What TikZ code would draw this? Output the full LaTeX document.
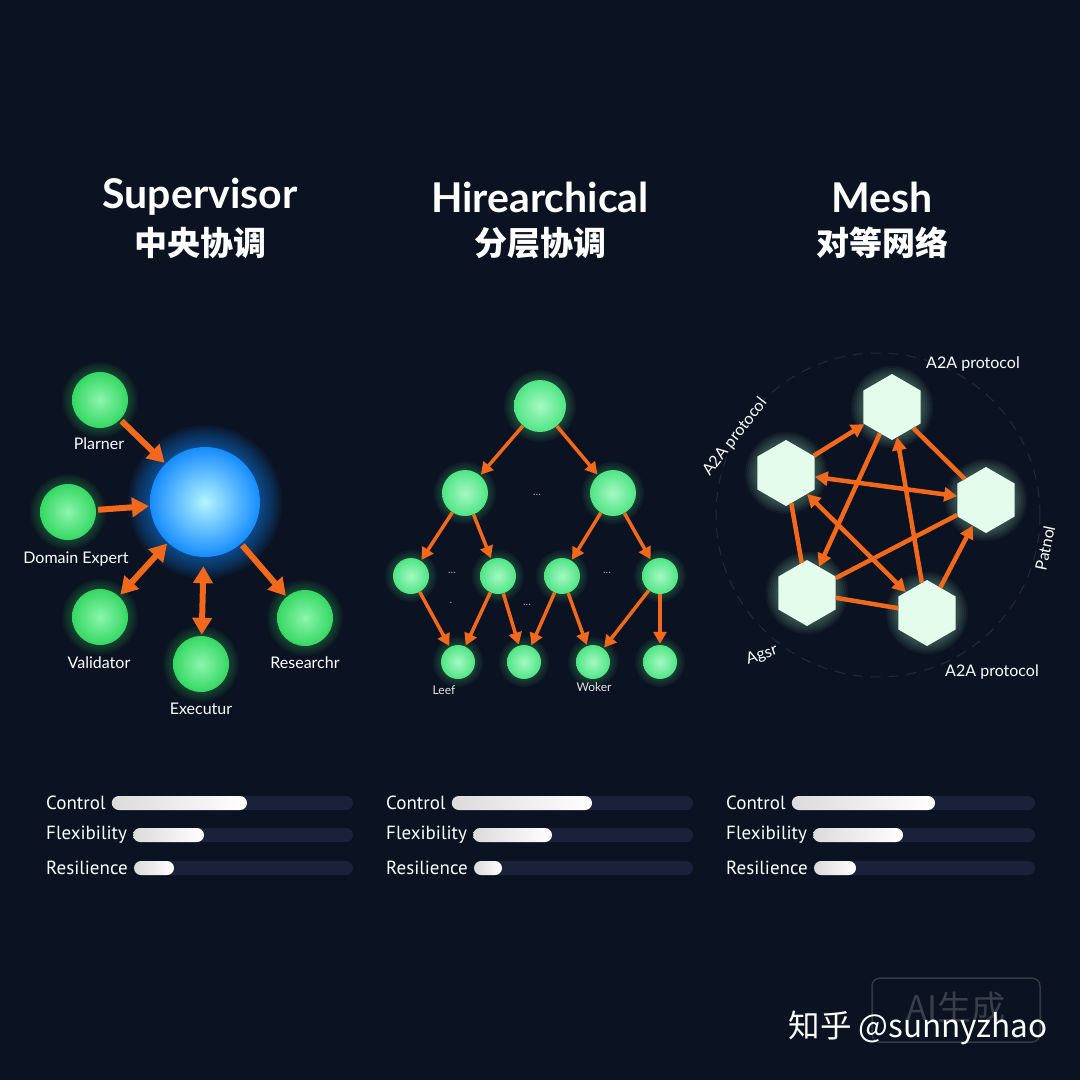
\documentclass[tikz,border=0pt]{standalone}
\usepackage{fontspec}
\setmainfont{Lato}
\newfontfamily\cjk{Noto Sans CJK SC}
\newfontfamily\barfont{PT Sans}
\usetikzlibrary{arrows.meta,shapes.geometric}
\definecolor{bgnavy}{HTML}{0B1221}
\definecolor{agentgreen}{HTML}{35D862}
\definecolor{agentlight}{HTML}{8CF5AE}
\definecolor{treegreen}{HTML}{4FE584}
\definecolor{treelight}{HTML}{A6F8C4}
\definecolor{hubblue}{HTML}{168CFF}
\definecolor{hubcyan}{HTML}{B4F4FF}
\definecolor{linkorange}{HTML}{F2691B}
\definecolor{hexmint}{HTML}{E4FCEC}
\definecolor{hexglow}{HTML}{9CE8B4}
\definecolor{trackgray}{HTML}{19223A}
\pgfdeclarelayer{bgl}\pgfdeclarelayer{glowl}
\pgfsetlayers{bgl,glowl,main}
\newcommand\halo[4]{\begin{pgfonlayer}{glowl}\foreach \k in {1,...,#4}{\fill[#3,opacity=.055](#1)circle[radius=#2pt+\k*2pt];}\end{pgfonlayer}}
\tikzset{
  agent/.style={circle,inner sep=0pt,shading=radial,inner color=agentlight,outer color=agentgreen},
  treenode/.style={circle,inner sep=0pt,shading=radial,inner color=treelight,outer color=treegreen},
  hub/.style={circle,inner sep=0pt,shading=radial,inner color=hubcyan,outer color=hubblue},
  hexagent/.style={regular polygon,regular polygon sides=6,shape border rotate=30,inner sep=0pt,minimum size=66,fill=hexmint},
  suplink/.style={draw=linkorange,line width=6pt,>={Triangle[length=17pt,width=19pt]},shorten <=2pt,shorten >=1pt},
  treelink/.style={draw=linkorange,line width=3.5pt,->,>={Triangle[length=12pt,width=13pt]},shorten >=1pt},
  meshlink/.style={draw=linkorange,line width=4.5pt,>={Triangle[length=13pt,width=14pt]}},
  agentlabel/.style={text=white,font=\fontsize{16}{18}\selectfont},
  smalllabel/.style={text=white!80!gray,font=\fontsize{12}{14}\selectfont},
  dots/.style={text=gray!70,font=\fontsize{11}{12}\selectfont},
  title/.style={text=white,font=\fontsize{41}{46}\selectfont\bfseries},
  cntitle/.style={text=white,font=\fontsize{33}{38}\selectfont\cjk\bfseries},
  barlabel/.style={text=white,anchor=west,inner sep=0pt,font=\fontsize{19}{21}\barfont},
}
\begin{document}
\begin{tikzpicture}[x=1pt,y=-1pt]
\useasboundingbox (0,0) rectangle (1080,1080);
\begin{pgfonlayer}{bgl}
\fill[bgnavy] (0,0) rectangle (1080,1080);
\end{pgfonlayer}
% titles
\node[title] (t1) at (200,197) {Supervisor};
\node[cntitle] (c1) at (200,243) {中央协调};
\node[title] (t2) at (540,197) {Hirearchical};
\node[cntitle] (c2) at (540,243) {分层协调};
\node[title] (t3) at (882,197) {Mesh};
\node[cntitle] (c3) at (882,243) {对等网络};
% supervisor
\node[hub,minimum size=110] (sup) at (205,502) {};
\halo{sup}{55}{hubblue}{11}
\foreach \n/\x/\y in {planner/100/400,domain/68/512,valid/100/617,exec/201/664,resr/305/618}{
  \node[agent,minimum size=56] (\n) at (\x,\y) {};
  \halo{\n}{28}{agentgreen}{5}
}
\node[agentlabel] (planlab) at (99,444) {Plarner};
\node[agentlabel] (domlab) at (76,559) {Domain Expert};
\node[agentlabel] (vallab) at (99,663) {Validator};
\node[agentlabel] (exlab) at (201,709) {Executur};
\node[agentlabel] (reslab) at (305,663) {Researchr};
\draw[suplink,->] (planner) -- (sup);
\draw[suplink,->] (domain) -- (sup);
\draw[suplink,<->] (valid) -- (sup);
\draw[suplink,<->,shorten <=9pt] (sup) -- (exec);
\draw[suplink,->] (sup) -- (resr);
% hierarchical
\node[treenode,minimum size=52] (root) at (540,406) {};
\halo{root}{26}{treegreen}{5}
\foreach \n/\x/\y/\d in {ma/465/493/46,mb/613/493/46,ca/411/576/36,cb/498/576/36,cc/562/576/36,cd/660/576/36,la/458/662/34,lb/524/662/34,lc/593/662/34,ld/660/662/34}{
  \node[treenode,minimum size=\d] (\n) at (\x,\y) {};
  \halo{\n}{\d/2}{treegreen}{4}
}
\foreach \a/\b in {root/ma,root/mb,ma/ca,ma/cb,mb/cc,mb/cd,ca/la,cb/la,cb/lb,cc/lb,cc/lc,cd/lc,cd/ld}
  \draw[treelink] (\a) -- (\b);
\node[dots] (d1) at (537,495) {...};
\node[dots] (d2) at (452,573) {...};
\node[dots] (d3) at (607,573) {...};
\node[dots] (d4) at (527,605) {...};
\node[dots] (d5) at (451,603) {.};
\node[smalllabel] (leaflab) at (444,690) {Leef};
\node[smalllabel] (worklab) at (594,687) {Woker};
% mesh
\coordinate (ring) at (878,515);
\draw[gray!60,opacity=.15,line width=1pt,dash pattern=on 10pt off 8pt] (ring) circle[radius=162];
\foreach \n/\x/\y in {top/892/407,left/786/473,right/986/500,bl/807/593,br/927/613}{
  \node[hexagent] (\n) at (\x,\y) {};
  \halo{\n}{29}{hexglow}{6}
}
\draw[meshlink,->] (left) -- (top);
\draw[meshlink] (top) -- (right);
\draw[meshlink,<->] (left) -- (right);
\draw[meshlink,->] (top) -- (bl);
\draw[meshlink,->] (br) -- (top);
\draw[meshlink,<->] (left) -- (br);
\draw[meshlink] (left) -- (bl);
\draw[meshlink] (bl) -- (right);
\draw[meshlink] (bl) -- (br);
\draw[meshlink,->] (br) -- (right);
\node[agentlabel] (p1) at (973,364) {A2A protocol};
\node[agentlabel,rotate=52] (p2) at (735,437) {A2A protocol};
\node[agentlabel,rotate=78] (p3) at (1045,548) {Patnol};
\node[agentlabel,rotate=18] (p4) at (762,655) {Agsr};
\node[agentlabel] (p5) at (992,672) {A2A protocol};
% bars
\foreach \x/\e/\c/\f/\r in {46/353/247/204/174,386/693/592/552/502,726/1035/935/903/856}{
  \foreach \t/\y/\v in {Control/803/\c,Flexibility/835/\f,Resilience/868/\r}{
    \node[barlabel] (bar\t\x) at (\x,\y) {\t};
    \fill[trackgray,rounded corners=7pt] ([xshift=6pt,yshift=7pt]bar\t\x.east) rectangle (\e,\y+7);
    \shade[left color=white!72!gray,right color=white,rounded corners=7pt] ([xshift=6pt,yshift=7pt]bar\t\x.east) rectangle (\v,\y+7);
  }
}
% watermark
\draw[gray,opacity=.35,line width=1.5pt,rounded corners=8pt] (872,978) rectangle (1040,1042);
\node[text=gray,opacity=.4,font=\fontsize{34}{36}\selectfont\cjk] (ai) at (956,1008) {AI生成};
\node[text=white,font=\fontsize{31.5}{34}\selectfont\cjk] (mark) at (918,1028) {知乎 @sunnyzhao};
\end{tikzpicture}
\end{document}
